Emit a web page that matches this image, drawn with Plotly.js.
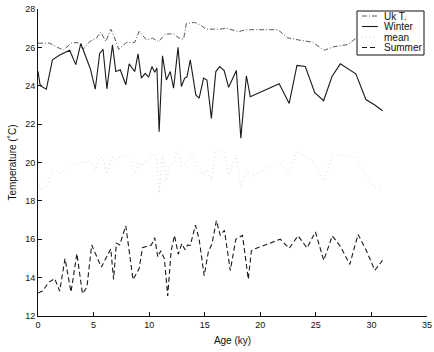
<!DOCTYPE html>
<html>
<head>
<meta charset="utf-8">
<script src="https://cdn.plot.ly/plotly-3.0.1.min.js"></script>
<style>html,body{margin:0;padding:0;background:#fff;}</style>
</head>
<body>
<div id="chart" style="width:434px;height:352px;"></div>
<script>
// Uk T. series
var ukAge = [0, 1.05, 1.9, 2.3, 3.0, 3.6, 4.05, 4.65, 5.25, 5.65, 6.1, 6.55, 6.9, 7.26, 7.95, 8.7, 9.1, 9.75, 10.3, 10.85, 11.45, 12.2, 12.7, 13.1, 13.35, 14.1, 14.7, 15.1, 16.4, 16.95, 18.05, 18.7, 21.6, 22.45, 23.5, 24.7, 25.75, 26.6, 27.9, 28.6, 29.5, 31.0];
var ukTemp = [26.22, 26.22, 25.96, 25.87, 26.22, 26.25, 25.9, 26.3, 26.48, 26.8, 26.3, 26.95, 26.48, 25.9, 26.25, 26.25, 26.83, 26.4, 26.48, 26.3, 26.7, 26.7, 26.48, 26.43, 27.25, 27.3, 27.13, 26.95, 26.95, 27.0, 26.82, 26.92, 26.92, 26.5, 26.38, 26.27, 25.85, 26.03, 26.15, 26.48, 26.9, 27.1];

// Winter series
var winterAge = [0, 0.2, 0.75, 1.3, 1.95, 2.85, 3.4, 3.85, 4.7, 5.15, 5.55, 5.85, 6.2, 6.7, 7.0, 7.4, 7.9, 8.2, 8.7, 9.0, 9.3, 9.65, 9.95, 10.25, 10.5, 10.7, 10.9, 11.2, 11.55, 11.9, 12.2, 12.6, 12.9, 13.2, 13.4, 13.7, 14.2, 14.5, 14.9, 15.2, 15.6, 16.0, 16.35, 16.75, 17.15, 17.85, 18.25, 18.75, 19.1, 21.7, 22.6, 23.3, 24.05, 24.9, 25.7, 26.45, 27.2, 28.6, 29.5, 30.3, 31.0];
var winterTemp = [24.75, 24.0, 23.82, 25.35, 25.6, 25.85, 25.1, 26.2, 24.9, 23.82, 25.68, 25.9, 23.84, 26.13, 24.74, 24.83, 24.05, 25.14, 24.74, 25.66, 24.4, 24.65, 24.45, 25.0, 24.7, 24.92, 21.6, 25.56, 24.3, 24.74, 23.87, 26.0, 23.96, 24.4, 24.45, 25.35, 23.52, 23.35, 24.4, 24.3, 22.3, 24.74, 25.0, 24.79, 23.92, 24.79, 21.26, 24.52, 23.43, 24.1, 23.08, 25.06, 25.0, 23.64, 23.22, 24.48, 25.14, 24.62, 23.28, 23.0, 22.7];

// mean series
var meanAge = [0, 0.2, 0.75, 1.3, 1.95, 2.85, 3.4, 3.85, 4.7, 5.15, 5.55, 5.85, 6.2, 6.7, 7.0, 7.4, 7.9, 8.2, 8.7, 9.0, 9.3, 9.65, 9.95, 10.25, 10.5, 10.7, 10.9, 11.2, 11.55, 11.9, 12.2, 12.6, 12.9, 13.2, 13.4, 13.7, 14.2, 14.5, 14.9, 15.2, 15.6, 16.0, 16.35, 16.75, 17.15, 17.85, 18.25, 18.75, 19.1, 21.7, 22.6, 23.3, 24.05, 24.9, 25.7, 26.45, 27.2, 28.6, 29.5, 30.3, 31.0];
var meanTemp = [19.0, 18.6, 18.7, 19.6, 19.45, 19.7, 20.0, 20.0, 20.1, 19.6, 20.25, 20.25, 19.4, 20.35, 20.1, 20.3, 20.4, 20.3, 19.4, 20.0, 19.8, 20.1, 20.05, 20.4, 20.4, 20.15, 18.4, 20.4, 19.05, 19.8, 19.95, 20.65, 19.8, 19.9, 20.05, 20.5, 20.05, 19.7, 19.35, 19.65, 19.0, 20.75, 20.6, 20.6, 19.35, 20.4, 18.7, 19.65, 19.25, 20.05, 19.3, 20.6, 20.35, 19.95, 19.05, 20.3, 20.4, 20.25, 19.35, 18.7, 18.8];

// Summer series
var summerAge = [0, 0.4, 1.0, 1.5, 1.95, 2.43, 2.97, 3.5, 4.0, 4.4, 4.83, 5.7, 6.55, 6.8, 7.05, 7.35, 7.9, 8.55, 9.1, 9.4, 9.75, 10.2, 10.5, 10.78, 11.05, 11.37, 11.67, 11.98, 12.28, 12.62, 12.94, 13.23, 13.45, 13.7, 14.16, 14.5, 14.95, 15.33, 15.65, 16.05, 16.4, 16.77, 17.3, 17.8, 18.4, 18.92, 19.2, 19.6, 21.8, 22.6, 23.4, 24.2, 24.96, 25.71, 26.48, 27.24, 28.05, 28.8, 29.55, 30.3, 31.0];
var summerTemp = [13.2, 13.3, 13.77, 13.95, 13.3, 14.99, 13.25, 15.25, 13.16, 13.5, 15.7, 14.55, 15.5, 13.9, 15.8, 15.7, 16.7, 13.9, 14.47, 15.56, 15.62, 15.7, 16.08, 15.08, 15.4, 14.99, 13.05, 15.4, 16.2, 15.22, 15.77, 15.45, 15.7, 15.68, 16.73, 16.0, 14.1, 15.35, 15.75, 16.97, 16.2, 16.47, 14.37, 16.0, 16.2, 13.92, 15.4, 15.52, 16.0, 15.53, 16.18, 15.55, 16.38, 14.9, 16.18, 15.6, 14.69, 16.25, 15.4, 14.38, 14.9];

var seriesNames = ['Uk T.', 'Winter', 'mean', 'Summer'];
var xTicks = [0, 5, 10, 15, 20, 25, 30, 35];
var yTicks = [12, 14, 16, 18, 20, 22, 24, 26, 28];

var styles = [
  {color: '#5a5a5a', width: 1, dash: '5px,2px,1px,2px'},
  {color: '#1a1a1a', width: 1.1},
  {color: '#d8d8d8', width: 1, dash: '1px,3px'},
  {color: '#1a1a1a', width: 1.1, dash: '5px,3px'}
];
var xs = [ukAge, winterAge, meanAge, summerAge];
var ys = [ukTemp, winterTemp, meanTemp, summerTemp];

var traces = seriesNames.map(function (n, i) {
  return {x: xs[i], y: ys[i], name: n, type: 'scatter', mode: 'lines', line: styles[i], showlegend: false};
});

// plot area in pixels (for manual legend placement)
var PL = 38, PR = 427, PT = 9, PB = 316;
function px(x) { return (x - PL) / (PR - PL); }
function py(y) { return (PB - y) / (PB - PT); }

var shapes = [{type: 'rect', xref: 'paper', yref: 'paper',
  x0: px(357), x1: px(424), y0: py(55), y1: py(11),
  fillcolor: '#fff', line: {color: '#111', width: 1}}];
var annotations = [];
var rowY = [16, 26.5, 37, 47.5];
seriesNames.forEach(function (n, i) {
  shapes.push({type: 'line', xref: 'paper', yref: 'paper',
    x0: px(362), x1: px(378), y0: py(rowY[i]), y1: py(rowY[i]),
    line: {color: i === 2 ? '#c8c8c8' : styles[i].color, width: styles[i].width, dash: styles[i].dash || 'solid'}});
  annotations.push({xref: 'paper', yref: 'paper', x: px(382), y: py(rowY[i]),
    xanchor: 'left', yanchor: 'middle', text: n, showarrow: false,
    font: {size: 10, color: '#111'}});
});

var layout = {
  width: 434, height: 352,
  margin: {l: 38, r: 7, t: 9, b: 36},
  paper_bgcolor: '#fff', plot_bgcolor: '#fff',
  font: {family: 'Liberation Sans, Arial, sans-serif', size: 9, color: '#111'},
  showlegend: false,
  shapes: shapes,
  annotations: annotations,
  xaxis: {range: [0, 35], tickvals: xTicks, ticktext: xTicks.map(String),
          ticks: 'inside', ticklen: 4, tickcolor: '#111', showline: true, linecolor: '#111', linewidth: 1,
          showgrid: false, zeroline: false, mirror: false,
          title: {text: 'Age (ky)', font: {size: 10}, standoff: 8}},
  yaxis: {range: [12, 28], tickvals: yTicks, ticktext: yTicks.map(String),
          ticks: 'inside', ticklen: 4, tickcolor: '#111', showline: true, linecolor: '#111', linewidth: 1,
          showgrid: false, zeroline: false, mirror: false,
          title: {text: 'Temperature (\u02DAC)', font: {size: 10}, standoff: 6}}
};

Plotly.newPlot('chart', traces, layout, {displayModeBar: false, staticPlot: true});
</script>
</body>
</html>
